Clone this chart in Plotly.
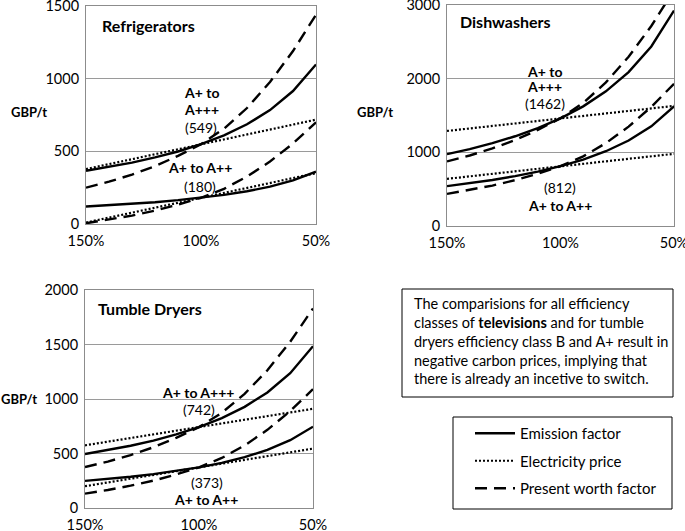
import plotly.graph_objects as go

W, H = 685, 531
FONT = "Lato"

x_pct = [150, 140, 130, 120, 110, 100, 90, 80, 70, 60, 50]
x_ticks = [150, 100, 50]
x_tick_labels = ["150%", "100%", "50%"]

# Refrigerators
refr_ef_a3 = [366, 392, 422, 458, 499, 549, 610, 686, 784, 915, 1098]
refr_ep_a3 = [378, 412, 446, 480, 514, 548, 582, 616, 650, 684, 718]
refr_pw_a3 = [250, 291, 340, 398, 469, 549, 656, 798, 977, 1190, 1440]
refr_ef_a2 = [120, 129, 138, 150, 164, 180, 200, 225, 257, 300, 360]
refr_ep_a2 = [10, 44, 78, 112, 146, 180, 214, 248, 282, 316, 350]
refr_pw_a2 = [5, 29, 58, 92, 133, 180, 242, 326, 430, 554, 700]

# Dishwashers
dish_ef_a3 = [975, 1044, 1125, 1218, 1329, 1462, 1624, 1828, 2089, 2437, 2924]
dish_ep_a3 = [1290, 1324, 1358, 1392, 1426, 1460, 1494, 1528, 1562, 1596, 1630]
dish_pw_a3 = [877, 957, 1053, 1166, 1305, 1462, 1671, 1949, 2297, 2715, 3202]
dish_ef_a2 = [541, 580, 625, 677, 738, 812, 902, 1015, 1160, 1353, 1624]
dish_ep_a2 = [640, 674, 708, 742, 776, 810, 844, 878, 912, 946, 980]
dish_pw_a2 = [436, 488, 549, 622, 711, 812, 946, 1125, 1349, 1617, 1930]

# Tumble dryers
tumb_ef_a3 = [495, 530, 571, 618, 675, 742, 824, 928, 1060, 1237, 1484]
tumb_ep_a3 = [575, 609, 642, 676, 709, 742, 776, 809, 843, 876, 910]
tumb_pw_a3 = [376, 426, 486, 557, 644, 742, 873, 1047, 1264, 1525, 1830]
tumb_ef_a2 = [249, 266, 287, 311, 339, 373, 414, 466, 533, 622, 746]
tumb_ep_a2 = [200, 235, 270, 304, 339, 373, 408, 442, 476, 511, 545]
tumb_pw_a2 = [132, 165, 205, 251, 308, 373, 459, 574, 717, 889, 1090]

series_names = ["Emission factor", "Electricity price", "Present worth factor"]
styles = {
    "Emission factor": dict(dash="solid", width=2.4),
    "Electricity price": dict(dash="2px,2px", width=2.2),
    "Present worth factor": dict(dash="12px,7px", width=2.4),
}

charts = [
    ("x", "y", [(refr_ef_a3, refr_ep_a3, refr_pw_a3), (refr_ef_a2, refr_ep_a2, refr_pw_a2)]),
    ("x2", "y2", [(dish_ef_a3, dish_ep_a3, dish_pw_a3), (dish_ef_a2, dish_ep_a2, dish_pw_a2)]),
    ("x3", "y3", [(tumb_ef_a3, tumb_ep_a3, tumb_pw_a3), (tumb_ef_a2, tumb_ep_a2, tumb_pw_a2)]),
]

fig = go.Figure()
shown = set()
for xa, ya, pairs in charts:
    for group in pairs:
        for i, (name, vals) in enumerate(zip(series_names, group)):
            st = styles[name]
            fig.add_trace(go.Scatter(
                x=x_pct, y=vals, mode="lines", name=name,
                xaxis=xa, yaxis=ya,
                line=dict(color="black", width=st["width"], dash=st["dash"]),
                showlegend=name not in shown, legendgroup=name, legendrank=i + 1,
                hoverinfo="skip",
            ))
            shown.add(name)


def px_x(p):
    return p / W


def px_y(p):
    return 1 - p / H


def xaxis(l, r, anchor):
    return dict(domain=[px_x(l), px_x(r)], range=[150, 50], tickvals=x_ticks, ticktext=x_tick_labels,
                anchor=anchor, automargin=False, ticklabeloverflow="allow",
                showgrid=False, zeroline=False, showline=True, mirror=True, linecolor="#8c8c8c", linewidth=1,
                ticks="", ticklabelstandoff=4, tickfont=dict(family=FONT, size=14.5, color="black"))


def yaxis(t, b, rmax, dt, anchor):
    return dict(domain=[px_y(b), px_y(t)], range=[0, rmax], dtick=dt, anchor=anchor, automargin=False,
                ticklabeloverflow="allow",
                showgrid=True, gridcolor="#9a9a9a", gridwidth=1, zeroline=False,
                showline=True, mirror=True, linecolor="#8c8c8c", linewidth=1,
                ticks="", ticklabelstandoff=3, tickfont=dict(family=FONT, size=14.5, color="black"))


ann = []


def text(x, y, s, size=14, bold=False, align="center", xanchor="center"):
    ann.append(dict(x=px_x(x), y=px_y(y), xref="paper", yref="paper", text=("<b>%s</b>" % s) if bold else s,
                    showarrow=False, xanchor=xanchor, yanchor="middle", align=align,
                    font=dict(family=FONT, size=size, color="black")))


# Titles
text(100, 25, "Refrigerators", 16, True, xanchor="left")
text(458, 22, "Dishwashers", 16, True, xanchor="left")
text(96, 308, "Tumble Dryers", 16, True, xanchor="left")
# Y titles
text(29, 112, "GBP/t", 13, True)
text(375, 112, "GBP/t", 13, True)
text(19, 399, "GBP/t", 13, True)
# Refrigerators labels
text(201, 92, "A+ to", 14, True)
text(201, 110, "A+++", 14, True)
text(201, 127, "(549)", 14)
text(200, 168, "A+ to A++", 14, True)
text(200, 186, "(180)", 14)
# Dishwashers labels
text(544, 71, "A+ to", 14, True)
text(544, 87, "A+++", 14, True)
text(545, 103, "(1462)", 14)
text(560, 188, "(812)", 14)
text(560, 205, "A+ to A++", 14, True)
# Tumble labels
text(198, 392, "A+ to A+++", 14, True)
text(199, 409, "(742)", 14)
text(207, 482, "(373)", 14)
text(206, 499, "A+ to A++", 14, True)

# Note box
ann.append(dict(x=px_x(412), y=px_y(341), xref="paper", yref="paper",
                text="The comparisions for all efficiency<br>classes of <b>televisions</b> and for tumble<br>"
                     "dryers efficiency class B and A+ result in<br>negative carbon prices, implying that<br>"
                     "there is already an incetive to switch.",
                showarrow=False, xanchor="left", yanchor="middle", align="left",
                font=dict(family=FONT, size=14.5, color="black")))

shapes = [
    dict(type="rect", xref="paper", yref="paper", x0=px_x(402), x1=px_x(673), y0=px_y(397), y1=px_y(289),
         line=dict(color="black", width=1)),
    dict(type="rect", xref="paper", yref="paper", x0=px_x(453), x1=px_x(672), y0=px_y(509), y1=px_y(417),
         line=dict(color="black", width=1)),
]

fig.update_layout(
    width=W, height=H, margin=dict(l=0, r=0, t=0, b=0, autoexpand=False),
    paper_bgcolor="white", plot_bgcolor="white",
    xaxis=xaxis(86, 316, "y"),
    yaxis=yaxis(6, 224, 1500, 500, "x"),
    xaxis2=xaxis(447, 674, "y2"),
    yaxis2=yaxis(5, 226, 3000, 1000, "x2"),
    xaxis3=xaxis(85, 313, "y3"),
    yaxis3=yaxis(290, 508, 2000, 500, "x3"),
    annotations=ann, shapes=shapes,
    showlegend=True,
    legend=dict(x=px_x(470), y=px_y(417), xanchor="left", yanchor="top", bgcolor="rgba(0,0,0,0)",
                borderwidth=0, font=dict(family=FONT, size=15, color="black"), tracegroupgap=5,
                itemwidth=40),
)

fig.write_html("out.html", config={"displayModeBar": False},
               post_script="document.body.style.margin='0px';")
